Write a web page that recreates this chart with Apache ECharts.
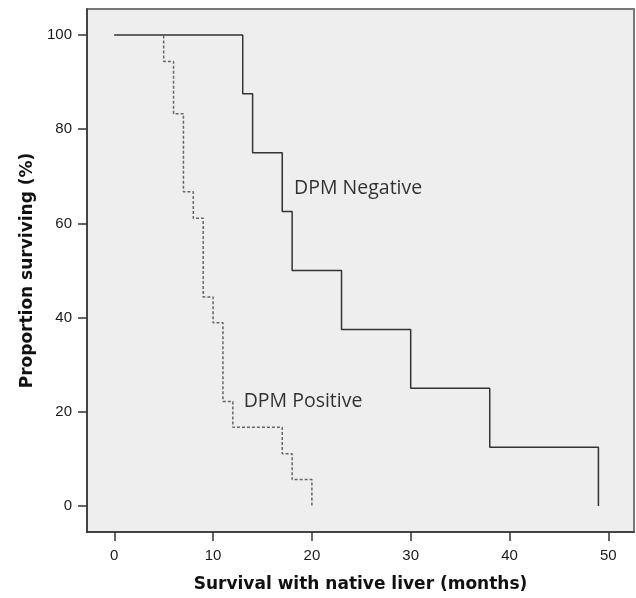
<!DOCTYPE html>
<html>
<head>
<meta charset="utf-8">
<script src="https://cdn.jsdelivr.net/npm/echarts@6/dist/echarts.min.js"></script>
<style>
  html, body { margin: 0; padding: 0; background: #fff; }
  #main { width: 636px; height: 598px; }
</style>
</head>
<body>
<div id="main"></div>
<script>
// Kaplan-Meier steps (months, % surviving)
var negTimes = [0, 13, 14, 17, 18, 23, 30, 38, 49];
var negSurv = [100, 87.5, 75, 62.5, 50, 37.5, 25, 12.5, 0];
var posTimes = [0, 5, 6, 7, 8, 9, 10, 11, 12, 17, 18, 20];
var posSurv = [100, 94.4, 83.3, 66.7, 61.1, 44.4, 38.9, 22.2, 16.7, 11.1, 5.6, 0];

var xTicks = [0, 10, 20, 30, 40, 50];
var yTicks = [0, 20, 40, 60, 80, 100];

var labelNames = ['DPM Negative', 'DPM Positive'];
var labelX = [18.2, 13.1];
var labelY = [67.5, 22.3];

function pairs(xs, ys) {
  return xs.map(function (x, i) { return [x, ys[i]]; });
}

var chart = echarts.init(document.getElementById('main'), null, { renderer: 'canvas' });

var tickFont = {
  color: '#1a1a1a',
  fontFamily: 'Liberation Sans, Arial, sans-serif',
  fontSize: 15
};
var nameFont = {
  color: '#111',
  fontFamily: 'DejaVu Sans, sans-serif',
  fontWeight: 'bold',
  fontSize: 17
};

var option = {
  backgroundColor: '#ffffff',
  animation: false,
  grid: {
    left: 87,
    top: 9,
    width: 547,
    height: 523,
    show: true,
    backgroundColor: '#eeeeee',
    borderColor: '#777',
    borderWidth: 2
  },
  xAxis: {
    type: 'value',
    min: -2.76,
    max: 52.6,
    name: 'Survival with native liver (months)',
    nameLocation: 'middle',
    nameGap: 44,
    nameTextStyle: nameFont,
    splitLine: { show: false },
    axisLine: { show: true, onZero: false, lineStyle: { color: '#333', width: 1.5 } },
    axisTick: { show: true, length: 9, customValues: xTicks, lineStyle: { color: '#333', width: 1.5 } },
    axisLabel: Object.assign({ customValues: xTicks, margin: 16 }, tickFont)
  },
  yAxis: {
    type: 'value',
    min: -5.52,
    max: 105.52,
    name: 'Proportion surviving (%)',
    nameLocation: 'middle',
    nameGap: 50,
    nameTextStyle: nameFont,
    splitLine: { show: false },
    axisLine: { show: true, onZero: false, lineStyle: { color: '#333', width: 1.5 } },
    axisTick: { show: true, length: 9, customValues: yTicks, lineStyle: { color: '#333', width: 1.5 } },
    axisLabel: Object.assign({ customValues: yTicks, margin: 15 }, tickFont)
  },
  series: [
    {
      name: 'DPM Negative',
      type: 'line',
      step: 'end',
      data: pairs(negTimes, negSurv),
      showSymbol: false,
      symbol: 'none',
      lineStyle: { color: '#333', width: 1.5 }
    },
    {
      name: 'DPM Positive',
      type: 'line',
      step: 'end',
      data: pairs(posTimes, posSurv),
      showSymbol: false,
      symbol: 'none',
      lineStyle: { color: '#666', width: 1.5, type: [3, 2] }
    },
    {
      type: 'scatter',
      symbolSize: 0,
      silent: true,
      data: pairs(labelX, labelY).map(function (p, i) {
        return { value: p, name: labelNames[i] };
      }),
      label: {
        show: true,
        position: 'right',
        distance: 0,
        formatter: '{b}',
        color: '#000',
        fontFamily: 'Open Sans, Noto Sans, sans-serif',
        fontSize: 19.5
      }
    }
  ]
};

chart.setOption(option);
</script>
</body>
</html>
